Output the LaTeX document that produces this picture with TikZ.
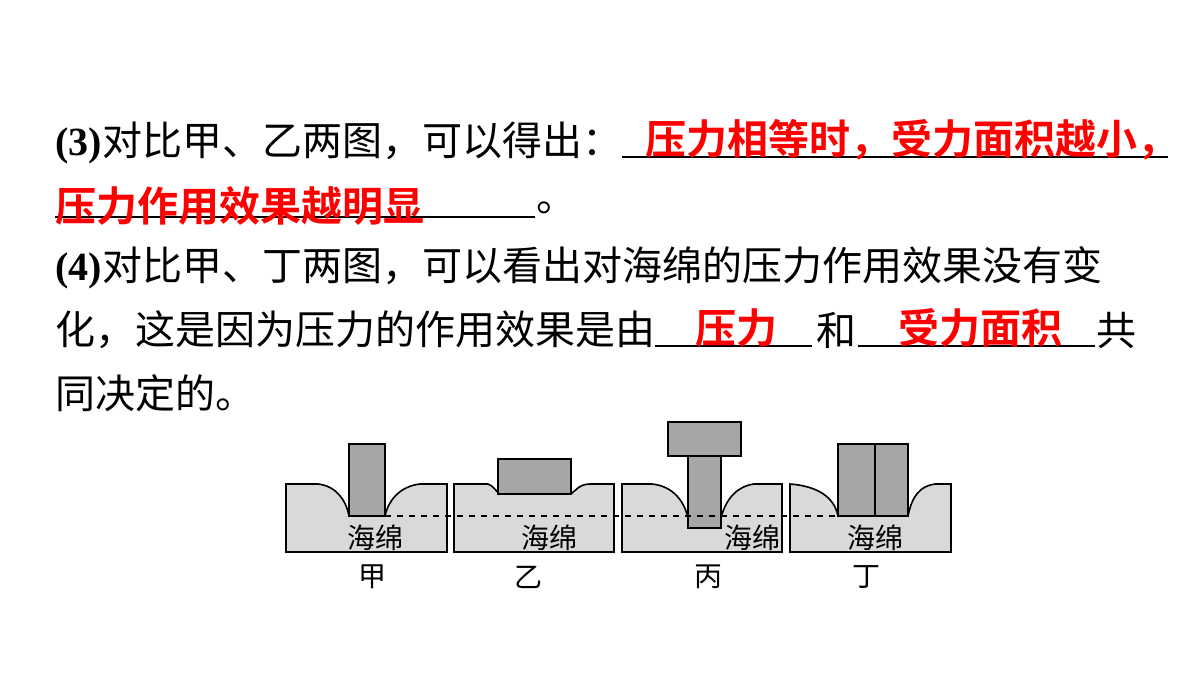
\documentclass[tikz,border=0pt]{standalone}
\usepackage{fontspec}
\setmainfont{Liberation Serif}
\newfontfamily\cjk{Noto Sans CJK SC}
\newfontfamily\cjkb{Noto Sans CJK SC Bold}
\begin{document}
\begin{tikzpicture}[x=0.5pt,y=-0.5pt,
  txt/.style={anchor=west,inner sep=0,font=\fontsize{20pt}{20pt}\cjk},
  ans/.style={anchor=west,inner sep=0,text=red,font=\fontsize{20.5pt}{20pt}\cjkb},
  ul/.style={line width=0.7pt},
  sp/.style={draw=black,fill=gray!30,line width=0.8pt},
  blk/.style={draw=black,fill=gray!70,line width=0.8pt},
  lab/.style={inner sep=0,font=\fontsize{14pt}{14pt}\cjk}]
\path[use as bounding box] (0,0) rectangle (1200,675);
\fill[white] (0,0) rectangle (1200,675);
% line 1
\node[txt] (l1) at (55,143) {{\bfseries\rmfamily(3)}对比甲、乙两图，可以得出：};
\coordinate (u1a) at (622,157); \coordinate (u1b) at (1168,157);
\draw[ul] (u1a) -- (u1b);
\node[ans] (a1) at (645,140) {压力相等时，受力面积越小，};
% line 2
\coordinate (u2a) at (55,217); \coordinate (u2b) at (535,217);
\draw[ul] (u2a) -- (u2b);
\node[ans] (a2) at (55,206) {压力作用效果越明显};
\node[txt] (p2) at (536,208) {。};
% line 3
\node[txt] (l3) at (55,268) {{\bfseries\rmfamily(4)}对比甲、丁两图，可以看出对海绵的压力作用效果没有变};
% line 4
\node[txt] (l4) at (55,330) {化，这是因为压力的作用效果是由};
\coordinate (u4a) at (655,346); \coordinate (u4b) at (812,346);
\draw[ul] (u4a) -- (u4b);
\node[ans] (a4) at (695,328) {压力};
\node[txt] (he) at (816,330) {和};
\coordinate (u5a) at (858,346); \coordinate (u5b) at (1095,346);
\draw[ul] (u5a) -- (u5b);
\node[ans] (a5) at (898,328) {受力面积};
\node[txt] (gong) at (1096,330) {共};
\node[txt] (l5) at (55,393) {同决定的。};
% sponges
\draw[sp] (286,552) -- (286,484) -- (318,484) .. controls (336,486) and (346,500) .. (349,516) -- (385,516) .. controls (389,498) and (402,486) .. (420,484) -- (447,484) -- (447,552) -- cycle;
\draw[blk] (349,516) rectangle (385,444);
\draw[sp] (454,552) -- (454,484) -- (488,484) .. controls (494,486) and (496,492) .. (500,494) -- (571,494) .. controls (576,490) and (580,484) .. (590,484) -- (614,484) -- (614,552) -- cycle;
\draw[blk] (498,494) rectangle (571,459);
\draw[sp] (622,552) -- (622,484) -- (652,484) .. controls (672,486) and (684,500) .. (688,518) -- (721,518) .. controls (726,498) and (738,486) .. (754,484) -- (782,484) -- (782,552) -- cycle;
\draw[blk] (688,456) rectangle (721,528);
\draw[blk] (668,422) rectangle (741,456);
\draw[sp] (790,552) -- (790,484) .. controls (816,486) and (834,496) .. (838,516) -- (908,516) .. controls (912,496) and (920,486) .. (935,484) -- (951,484) -- (951,552) -- cycle;
\draw[blk] (838,516) rectangle (875,444);
\draw[blk] (875,516) rectangle (908,444);
\coordinate (da) at (385,516); \coordinate (db) at (838,516);
\draw[dashed,line width=0.7pt] (da) -- (db);
\node[lab] (s1) at (375,538) {海绵};
\node[lab] (s2) at (549,538) {海绵};
\node[lab] (s3) at (752,538) {海绵};
\node[lab] (s4) at (875,538) {海绵};
\node[lab] (c1) at (372,577) {甲};
\node[lab] (c2) at (528,577) {乙};
\node[lab] (c3) at (708,577) {丙};
\node[lab] (c4) at (866,577) {丁};
\end{tikzpicture}
\end{document}
